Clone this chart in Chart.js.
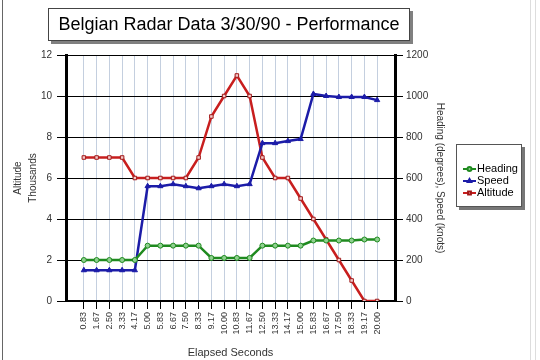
<!DOCTYPE html>
<html>
<head>
<meta charset="utf-8">
<script src="https://cdn.jsdelivr.net/npm/chart.js@4.4.1/dist/chart.umd.min.js"></script>
<style>
  html, body { margin: 0; padding: 0; background: #fff; }
  #wrap { width: 540px; height: 360px; position: relative; }
</style>
</head>
<body>
<div id="wrap"><canvas id="chart" width="540" height="360"></canvas></div>
<script>
// Belgian radar track — altitude (left axis) vs heading/speed (right axis)
const chartTitle = 'Belgian Radar Data 3/30/90 - Performance'
const elapsed = ['0.83', '1.67', '2.50', '3.33', '4.17', '5.00', '5.83', '6.67', '7.50', '8.33', '9.17', '10.00',
  '10.83', '11.67', '12.50', '13.33', '14.17', '15.00', '15.83', '16.67', '17.50', '18.33', '19.17', '20.00']
const heading = [200, 200, 200, 200, 200, 270, 270, 270, 270, 270, 210, 210, 210, 210, 270, 270, 270, 270, 295, 295, 295, 295, 300, 300]
const speed = [150, 150, 150, 150, 150, 560, 560, 570, 560, 550, 560, 570, 560, 570, 770, 770, 780, 790, 1010, 1000, 995, 995, 995, 980]
const altitude = [7, 7, 7, 7, 6, 6, 6, 6, 6, 7, 9, 10, 11, 10, 7, 6, 6, 5, 4, 3, 2, 1, 0, 0]
const altTicks = [0, 2, 4, 6, 8, 10, 12]
const rightTicks = [0, 200, 400, 600, 800, 1000, 1200]

const toPts = (arr) => arr.map((v, i) => ({ x: i, y: v }))
const font = 'Arial, "Liberation Sans", sans-serif'

const titleBox = {
  id: 'titleBox',
  afterDraw(chart) {
    const { ctx } = chart
    ctx.save()
    ctx.fillStyle = '#808080'
    ctx.fillRect(51, 11, 362, 33)
    ctx.fillStyle = '#fff'
    ctx.fillRect(48, 8, 362, 33)
    ctx.strokeStyle = '#444'
    ctx.lineWidth = 1
    ctx.strokeRect(48.5, 8.5, 361, 32)
    ctx.fillStyle = '#000'
    ctx.font = '18px ' + font
    ctx.textAlign = 'center'
    ctx.textBaseline = 'middle'
    ctx.fillText(chartTitle, 229, 25)
    // outer frame
    ctx.strokeStyle = '#666'
    ctx.beginPath(); ctx.moveTo(2.5, 0); ctx.lineTo(2.5, 360); ctx.stroke()
    ctx.strokeStyle = '#ddd'
    ctx.beginPath(); ctx.moveTo(530.5, 0); ctx.lineTo(530.5, 360); ctx.stroke()
    ctx.beginPath(); ctx.moveTo(535.5, 0); ctx.lineTo(535.5, 360); ctx.stroke()
    ctx.restore()
  }
}

const boxLegend = {
  id: 'boxLegend',
  afterDraw(chart) {
    const { ctx } = chart
    ctx.save()
    ctx.fillStyle = '#777'
    ctx.fillRect(459, 147, 66, 63)
    ctx.fillStyle = '#fff'
    ctx.fillRect(456, 144, 66, 63)
    ctx.strokeStyle = '#555'
    ctx.lineWidth = 1
    ctx.strokeRect(456.5, 144.5, 65, 62)
    ctx.font = '11px ' + font
    ctx.textBaseline = 'middle'
    chart.data.datasets.forEach((ds, i) => {
      const y = 169 + i * 12
      ctx.strokeStyle = ds.borderColor
      ctx.lineWidth = 2
      ctx.beginPath(); ctx.moveTo(463, y); ctx.lineTo(476, y); ctx.stroke()
      ctx.fillStyle = ds.pointBackgroundColor
      ctx.strokeStyle = ds.pointBorderColor
      Chart.helpers.drawPoint(ctx, { pointStyle: ds.pointStyle, radius: 2, rotation: 0, borderWidth: 1 }, 469.5, y)
      ctx.fillStyle = '#000'
      ctx.fillText(ds.label, 477, y)
    })
    ctx.restore()
  }
}

new Chart(document.getElementById('chart'), {
  type: 'line',
  data: {
    datasets: [
      { label: 'Heading', data: toPts(heading), yAxisID: 'yR', borderColor: '#1f8a1f', pointBackgroundColor: '#8fd08f',
        pointBorderColor: '#1f8a1f', pointStyle: 'circle', pointRadius: 2.5, borderWidth: 2.5, pointBorderWidth: 1 },
      { label: 'Speed', data: toPts(speed), yAxisID: 'yR', borderColor: '#1c1ca8', pointBackgroundColor: '#1c1ca8',
        pointBorderColor: '#1c1ca8', pointStyle: 'triangle', pointRadius: 3, borderWidth: 2.5, pointBorderWidth: 1 },
      { label: 'Altitude', data: toPts(altitude), yAxisID: 'yL', borderColor: '#c81e1e', pointBackgroundColor: '#f4c8c8',
        pointBorderColor: '#a01818', pointStyle: 'rect', pointRadius: 2.5, borderWidth: 2.5, pointBorderWidth: 1 },
    ],
  },
  options: {
    responsive: false,
    animation: false,
    layout: { padding: { left: 0, right: 92, top: 55, bottom: 0 } },
    plugins: { legend: { display: false }, tooltip: { enabled: false } },
    elements: { line: { tension: 0 } },
    scales: {
      x: {
        type: 'linear', min: -1.4, max: 24.4,
        afterBuildTicks: (s) => { s.ticks = elapsed.map((_, i) => ({ value: i })) },
        afterFit: (s) => { s.height = 59 },
        ticks: { autoSkip: false, minRotation: 90, maxRotation: 90, padding: 3, color: '#333',
          font: { family: font, size: 9 }, callback: (v) => elapsed[v] },
        grid: { color: '#c4cfdf', tickColor: '#000', tickLength: 8, lineWidth: 1 },
        border: { color: '#000', width: 2 },
        title: { display: true, text: 'Elapsed Seconds', color: '#333', font: { family: font, size: 11 }, padding: { top: 2, bottom: 0 } },
      },
      yL: {
        position: 'left', min: 0, max: 12,
        afterBuildTicks: (s) => { s.ticks = altTicks.map((v) => ({ value: v })) },
        afterFit: (s) => { s.width = 66 },
        ticks: { padding: 5, color: '#333', font: { family: font, size: 10 }, callback: (v) => String(v) },
        grid: { color: '#000', tickLength: 9, lineWidth: 1 },
        border: { color: '#000', width: 3 },
        title: { display: true, text: ['Altitude', 'Thousands'], color: '#333',
          font: { family: font, size: 10, lineHeight: 1.5 }, padding: { top: 11, bottom: 0 } },
      },
      yR: {
        position: 'right', min: 0, max: 1200,
        afterBuildTicks: (s) => { s.ticks = rightTicks.map((v) => ({ value: v })) },
        afterFit: (s) => { s.width = 53 },
        ticks: { padding: 3, color: '#333', font: { family: font, size: 10 }, callback: (v) => String(v) },
        grid: { drawOnChartArea: false, color: '#000', tickLength: 8 },
        border: { color: '#000', width: 3 },
        title: { display: true, text: 'Heading (degrees), Speed (knots)', color: '#333',
          font: { family: font, size: 10 }, padding: { top: 2, bottom: 0 } },
      },
    },
  },
  plugins: [titleBox, boxLegend],
})
</script>
</body>
</html>
